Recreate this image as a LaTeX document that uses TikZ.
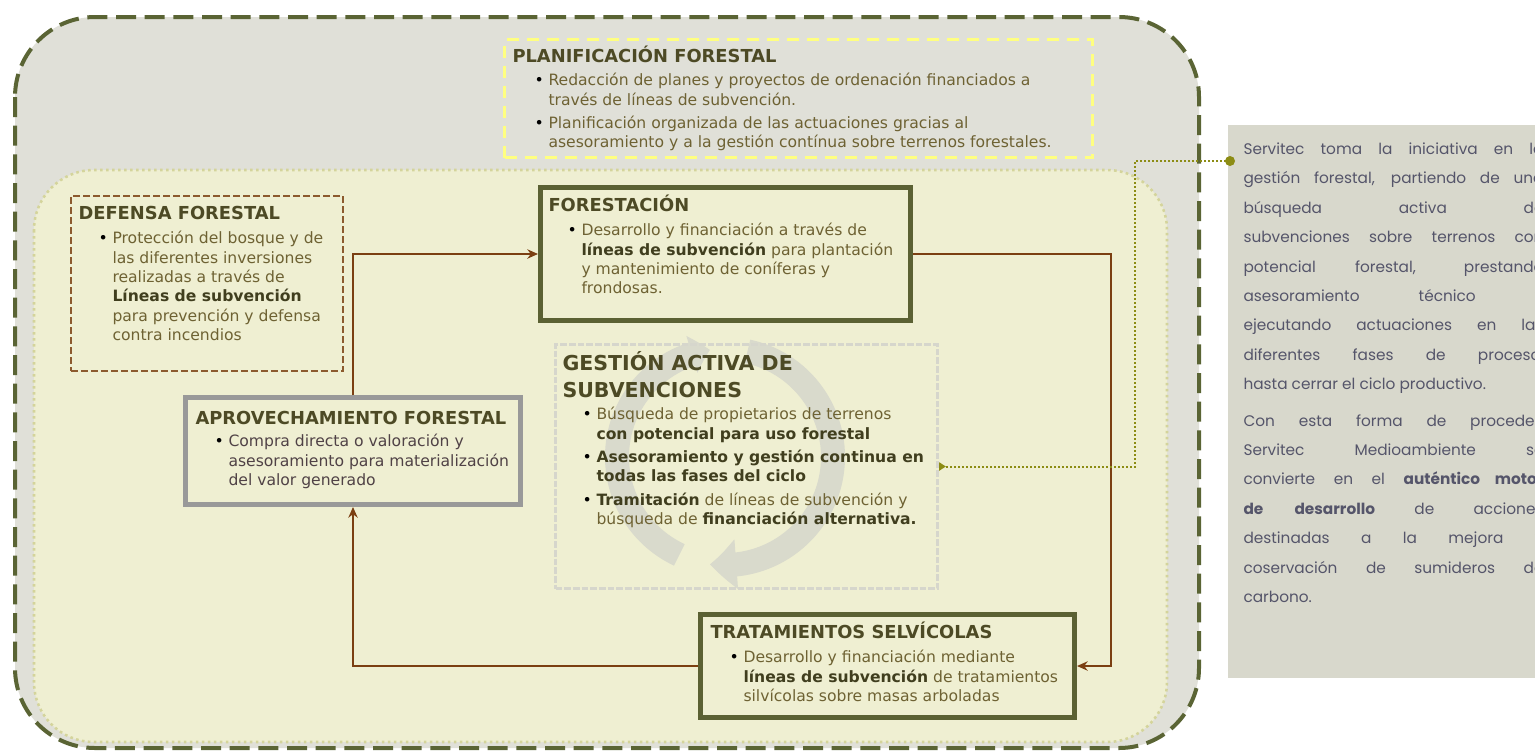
\documentclass[tikz,border=0pt]{standalone}
\usepackage{fontspec}
\setmainfont{DejaVu Sans}
\newfontfamily\panelfont{Poppins}
\usetikzlibrary{arrows.meta,bending,positioning}

\definecolor{outerfill}{RGB}{224,224,216}
\definecolor{outerline}{RGB}{90,100,52}
\definecolor{innerfill}{RGB}{239,239,210}
\definecolor{innerline}{RGB}{212,212,155}
\definecolor{planline}{RGB}{255,255,128}
\definecolor{defline}{RGB}{140,90,46}
\definecolor{boxolive}{RGB}{91,97,51}
\definecolor{boxgray}{RGB}{153,153,153}
\definecolor{gestline}{RGB}{214,214,204}
\definecolor{ringgray}{RGB}{217,218,204}
\definecolor{linkbrown}{RGB}{123,63,18}
\definecolor{linkolive}{RGB}{140,140,20}
\definecolor{panelfill}{RGB}{216,216,204}
\definecolor{paneltext}{RGB}{85,85,106}
\definecolor{titletext}{RGB}{77,74,37}
\definecolor{bodytext}{RGB}{110,98,51}
\definecolor{boldtext}{RGB}{64,62,30}
\definecolor{aprovtext}{RGB}{80,66,70}

\newcommand{\bitem}{\hspace*{15pt}\makebox[10.5pt][l]{\textcolor{black}{\textbullet}}}
\newcommand{\bcont}{\hspace*{25.5pt}}
\newcommand{\bd}[1]{\textbf{\textcolor{boldtext}{#1}}}
\newcommand{\jl}[1]{\makebox[225pt][s]{#1}}

\tikzset{every picture/.style={line width=0.75pt}}
\tikzset{
  framebox/.style={draw, rectangle, inner sep=0pt},
  olivebox/.style={framebox, draw=boxolive, line width=3.75pt, fill=innerfill},
  graybox/.style={framebox, draw=boxgray, line width=3.75pt, fill=innerfill},
  defbox/.style={framebox, draw=defline, line width=1.5pt, dash pattern=on 5pt off 2.5pt},
  planbox/.style={framebox, draw=planline, line width=2.25pt, dash pattern=on 9pt off 6pt},
  gestbox/.style={framebox, draw=gestline, line width=2.6pt, dash pattern=on 5pt off 1.5pt},
  boxtitle/.style={anchor=base west, inner sep=0pt, text=titletext, font=\bfseries\fontsize{13.4}{16}\selectfont},
  boxbody/.style={anchor=north west, inner sep=0pt, align=left, text=bodytext, font=\fontsize{11.7}{14.5}\selectfont},
  brownlink/.style={draw=linkbrown, line width=1.9pt, -{Stealth[length=8pt,width=7pt]}},
  olivelink/.style={draw=linkolive, line width=1.5pt, dash pattern=on 1.5pt off 1.5pt, -{Triangle[length=5pt,width=6pt,reversed]}},
  ringarc/.style={draw=ringgray, line width=18pt}
}

\begin{document}
\begin{tikzpicture}[x=0.75pt,y=0.75pt,yscale=-1,xscale=1]
\useasboundingbox (0,0) rectangle (1535,751);
\clip (0,0) rectangle (1535,751);

%Shape: Rounded Rect
\draw [draw=outerline, fill=outerfill, line width=3pt, dash pattern=on 15pt off 6.5pt, rounded corners=60pt] (15,17) rectangle (1199,748);
%Shape: Rounded Rect
\draw [draw=innerline, fill=innerfill, line width=1.9pt, dash pattern=on 2pt off 2.5pt, rounded corners=45pt] (34,170) rectangle (1167,742);
%Shape: Rectangle
\fill [panelfill] (1228,125) rectangle (1550,678);

%Shape: Arc
\draw [ringarc, -{Triangle[length=14pt,width=28pt,bend]}] (725,457) ++(115:108) arc[start angle=115, end angle=262, radius=108];
%Shape: Arc
\draw [ringarc, -{Triangle[length=20pt,width=36pt,bend]}] (725,457) ++(282:108) arc[start angle=282, end angle=458, radius=108];

%Shape: Rectangle
\node [planbox, minimum width=441pt, minimum height=88.5pt] (plan) at (798.5,98.5) {};
\node [defbox, minimum width=204pt, minimum height=131.25pt] (def) at (207,283.5) {};
\node [olivebox, minimum width=277.5pt, minimum height=99.75pt] (fore) at (725.5,254) {};
\node [gestbox, minimum width=286.5pt, minimum height=183pt] (gest) at (746.5,466.5) {};
\node [graybox, minimum width=251.25pt, minimum height=80.25pt] (aprov) at (353,451) {};
\node [olivebox, minimum width=280.5pt, minimum height=77.25pt] (trat) at (887.5,666) {};

% Text Node
\node [boxtitle] (plantitle) at (512,62) {PLANIFICACIÓN FORESTAL};
\node [boxbody] (planbody) at (514,73) {\bitem Redacción de planes y proyectos de ordenación financiados a\\
\bcont través de líneas de subvención.\\[3pt]
\bitem Planificación organizada de las actuaciones gracias al\\
\bcont asesoramiento y a la gestión contínua sobre terrenos forestales.};
% Text Node
\node [boxtitle] (deftitle) at (78,219) {DEFENSA FORESTAL};
\node [boxbody] (defbody) at (78,231) {\bitem Protección del bosque y de\\
\bcont las diferentes inversiones\\
\bcont realizadas a través de\\
\bcont \bd{Líneas de subvención}\\
\bcont para prevención y defensa\\
\bcont contra incendios};
% Text Node
\node [boxtitle] (foretitle) at (548,211) {FORESTACIÓN};
\node [boxbody] (forebody) at (547,223) {\bitem Desarrollo y financiación a través de\\
\bcont \bd{líneas de subvención} para plantación\\
\bcont y mantenimiento de coníferas y\\
\bcont frondosas.};
% Text Node
\node [boxtitle, anchor=north west, align=left, font=\bfseries\fontsize{15.4}{20}\selectfont] (gesttitle) at (562,351) {GESTIÓN ACTIVA DE\\SUBVENCIONES};
\node [boxbody] (gestbody) at (562,407) {\bitem Búsqueda de propietarios de terrenos\\
\bcont \bd{con potencial para uso forestal}\\[3pt]
\bitem \bd{Asesoramiento y gestión continua en}\\
\bcont \bd{todas las fases del ciclo}\\[3pt]
\bitem \bd{Tramitación} de líneas de subvención y\\
\bcont búsqueda de \bd{financiación alternativa.}};
% Text Node
\node [boxtitle] (aprovtitle) at (195,424) {APROVECHAMIENTO FORESTAL};
\node [boxbody, text=aprovtext] (aprovbody) at (194,434) {\bitem Compra directa o valoración y\\
\bcont asesoramiento para materialización\\
\bcont del valor generado};
% Text Node
\node [boxtitle] (trattitle) at (710,638) {TRATAMIENTOS SELVÍCOLAS};
\node [boxbody] (tratbody) at (709,650) {\bitem Desarrollo y financiación mediante\\
\bcont \bd{líneas de subvención} de tratamientos\\
\bcont silvícolas sobre masas arboladas};

% Text Node
\node [anchor=north west, inner sep=0pt, align=left, text=paneltext, font=\panelfont\fontsize{11.5}{22.1}\selectfont] (paneltxt) at (1243,142) {\jl{Servitec toma la iniciativa en la}\\
\jl{gestión forestal, partiendo de una}\\
\jl{búsqueda activa de}\\
\jl{subvenciones sobre terrenos con}\\
\jl{potencial forestal, prestando}\\
\jl{asesoramiento técnico y}\\
\jl{ejecutando actuaciones en las}\\
\jl{diferentes fases de proceso,}\\
hasta cerrar el ciclo productivo.\\[5pt]
\jl{Con esta forma de proceder,}\\
\jl{Servitec Medioambiente se}\\
\jl{convierte en el \textbf{auténtico motor}}\\
\jl{\textbf{de desarrollo} de acciones}\\
\jl{destinadas a la mejora y}\\
\jl{coservación de sumideros de}\\
carbono.};

%Straight Lines
\draw [brownlink] (aprov.north) |- (fore.west);
\coordinate (rightturn) at (1111,254);
\draw [brownlink] (fore.east) -- (rightturn) |- (trat.east);
\draw [brownlink] (trat.west) -| (aprov.south);

%Shape: Circle
\node [circle, fill=linkolive, inner sep=0pt, minimum size=7.5pt] (linkdot) at (1230,161) {};
\coordinate (linkturn) at (1135,161);
%Straight Lines
\draw [olivelink] (linkdot.center) -- (linkturn) |- (gest.east);

\end{tikzpicture}
\end{document}
